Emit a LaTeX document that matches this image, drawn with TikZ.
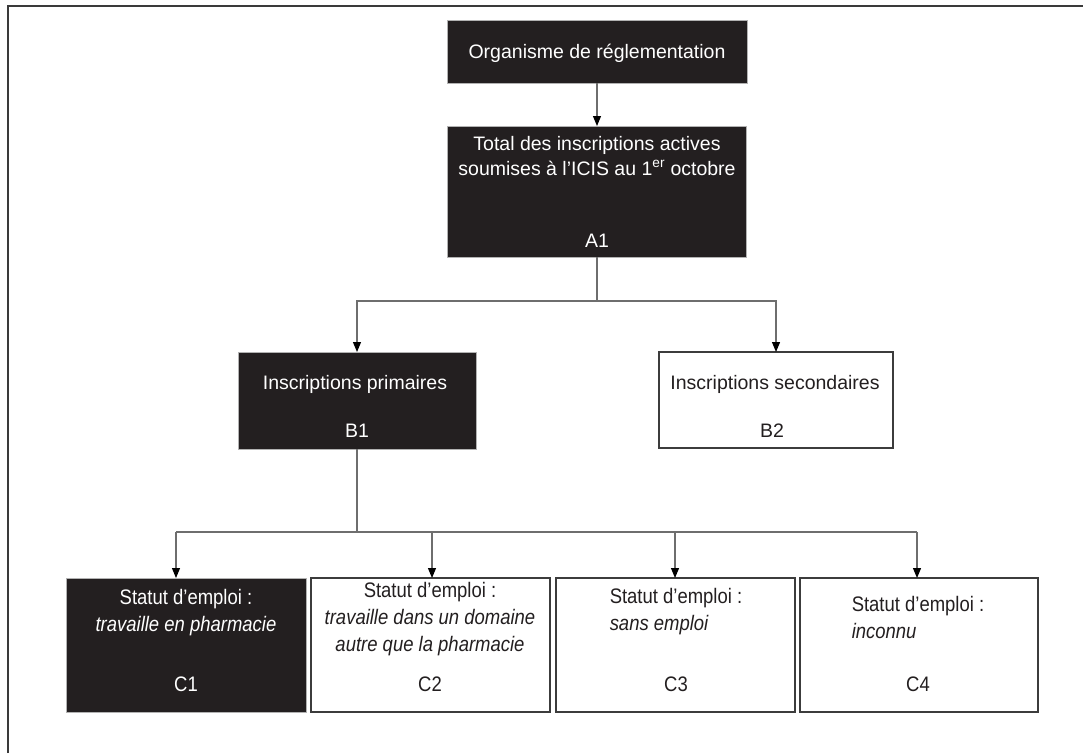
\documentclass[tikz,border=0pt]{standalone}
\usepackage{fontspec}
\usepackage{graphicx}
\setmainfont{Liberation Sans}
\usetikzlibrary{arrows.meta}
\definecolor{boxblack}{HTML}{231F20}
\definecolor{linegray}{HTML}{6E6E6E}
\definecolor{framegray}{HTML}{3A3A3A}
\definecolor{edgegray}{HTML}{3C3C3C}
\newcommand{\narrowtxt}[1]{\scalebox{0.88}[1]{#1}}
\begin{document}
\begin{tikzpicture}[x=1pt,y=-1pt,
  darkbox/.style={draw=gray!60, line width=0.8pt, fill=boxblack, inner sep=0pt, outer sep=0pt},
  lightbox/.style={draw=edgegray, line width=1.6pt, fill=white, inner sep=0pt, outer sep=0pt},
  wtxt/.style={text=white, font=\fontsize{19.5}{23}\selectfont, inner sep=0pt, anchor=base},
  btxt/.style={text=boxblack, font=\fontsize{19.5}{23}\selectfont, inner sep=0pt, anchor=base},
  wctxt/.style={text=white, font=\fontsize{21}{24}\selectfont, inner sep=0pt, anchor=base},
  bctxt/.style={text=boxblack, font=\fontsize{21}{24}\selectfont, inner sep=0pt, anchor=base},
  conn/.style={draw=linegray, line width=1.1pt},
  arr/.style={conn, -{Triangle[width=8pt,length=10pt,fill=black,color=black]}}
]
\useasboundingbox (0,0) rectangle (1083,753);
% outer frame (top and left)
\draw[framegray, line width=2pt] (8,753) -- (8,6) -- (1083,6);

% boxes
\node[darkbox, minimum width=300pt, minimum height=63pt] (org) at (597,51.5) {};
\node[darkbox, minimum width=299pt, minimum height=131pt] (A1) at (596.5,191.5) {};
\node[darkbox, minimum width=238pt, minimum height=97pt] (B1) at (357,400.5) {};
\node[lightbox, minimum width=234pt, minimum height=96pt] (B2) at (776,400) {};
\node[darkbox, minimum width=240pt, minimum height=134pt] (C1) at (186,645) {};
\node[lightbox, minimum width=239pt, minimum height=134pt] (C2) at (430.5,645) {};
\node[lightbox, minimum width=239pt, minimum height=134pt] (C3) at (675.5,645) {};
\node[lightbox, minimum width=238pt, minimum height=134pt] (C4) at (919,645) {};

% texts
\node[wtxt] (orgt) at (597,58) {Organisme de réglementation};
\node[wtxt] (A1a) at (597,150) {Total des inscriptions actives};
\node[wtxt] (A1b) at (597,175) {soumises à l’ICIS au 1\textsuperscript{er} octobre};
\node[wtxt] (A1l) at (597,247) {A1};
\node[wtxt] (B1t) at (355,389) {Inscriptions primaires};
\node[wtxt] (B1l) at (357,437) {B1};
\node[btxt] (B2t) at (775,389) {Inscriptions secondaires};
\node[btxt] (B2l) at (772,437) {B2};

\node[wctxt] (C1a) at (186,604) {\narrowtxt{Statut d’emploi :}};
\node[wctxt] (C1b) at (186,631) {\narrowtxt{\itshape travaille en pharmacie}};
\node[wctxt] (C1l) at (186,691) {\narrowtxt{C1}};
\node[bctxt] (C2a) at (430,597) {\narrowtxt{Statut d’emploi :}};
\node[bctxt] (C2b) at (430,624) {\narrowtxt{\itshape travaille dans un domaine}};
\node[bctxt] (C2c) at (430,651) {\narrowtxt{\itshape autre que la pharmacie}};
\node[bctxt] (C2l) at (430,691) {\narrowtxt{C2}};
\node[bctxt] (C3a) at (676,603) {\narrowtxt{Statut d’emploi :}};
\node[bctxt, anchor=base west, yshift=-27pt] (C3b) at (C3a.base west) {\narrowtxt{\itshape sans emploi}};
\node[bctxt] (C3l) at (676,691) {\narrowtxt{C3}};
\node[bctxt] (C4a) at (918,611) {\narrowtxt{Statut d’emploi :}};
\node[bctxt, anchor=base west, yshift=-27pt] (C4b) at (C4a.base west) {\narrowtxt{\itshape inconnu}};
\node[bctxt] (C4l) at (918,691) {\narrowtxt{C4}};

% connectors
\coordinate (jA) at (597,301);
\coordinate (jB) at (357,532);
\coordinate (t1) at (176,532);
\coordinate (t2) at (432,532);
\coordinate (t3) at (675,532);
\coordinate (t4) at (917,532);

\draw[arr] (org.south) -- (A1.north -| org.south);
\draw[conn] (A1.south -| jA) -- (jA);
\draw[arr] (jA) -| (B1.north);
\draw[arr] (jA) -| (B2.north);
\draw[conn] (B1.south) -- (jB);
\draw[conn] (t1) -- (t4);
\draw[arr] (t1) -- (t1 |- C1.north);
\draw[arr] (t2) -- (t2 |- C2.north);
\draw[arr] (t3) -- (t3 |- C3.north);
\draw[arr] (t4) -- (t4 |- C4.north);
\end{tikzpicture}
\end{document}
